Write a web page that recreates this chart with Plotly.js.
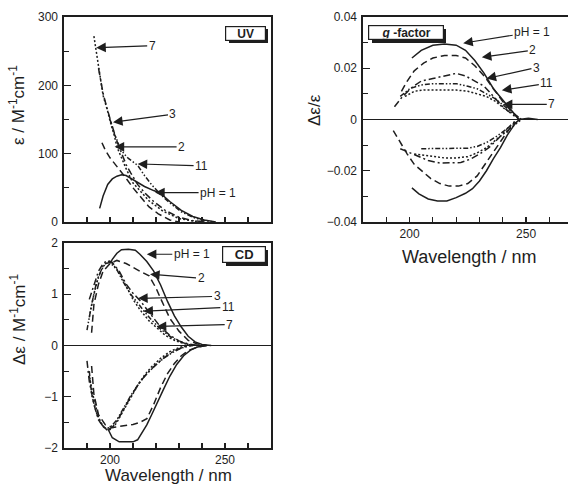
<!DOCTYPE html>
<html><head><meta charset="utf-8">
<script src="https://cdn.plot.ly/plotly-3.0.1.min.js"></script>
<style>html,body{margin:0;padding:0;background:#fff}#chart{width:568px;height:487px}</style>
</head><body><div id="chart"></div>
<script>
// ---------- UV absorption (epsilon / M^-1 cm^-1) ----------
const uvLam_pH1 = [195.5,197,199,201,203,205,207,209,212,215,219,222,226,231,236,241,246];
const uvEps_pH1 = [20,38,55,63,67,69,68,64,58,52,46,42,30,17,8,3,0];
const uvLam_pH2 = [196.5,198,200,202,204,207,210,213,217,221,226,230];
const uvEps_pH2 = [116,105,94,86,77,64,50,38,22,12,3,0];
const uvLam_pH3 = [195,197,199,200,201,203,205,207,209,212,215,219,224,230,236,242];
const uvEps_pH3 = [225,188,163,150,140,118,100,84,72,55,43,30,17,7,2,0];
const uvLam_pH11 = [200,202,204,206,208,210,212,215,218,222,226,231,236,241,245];
const uvEps_pH11 = [150,128,112,100,93,88,83,68,55,40,28,15,7,2,0];
const uvLam_pH7 = [193,194.5,196,197,199,200,202,203,205,207,210,213,217,223,230,236,241];
const uvEps_pH7 = [272,240,212,185,162,148,125,110,94,78,57,46,31,16,5,1.5,0];

// ---------- CD (delta epsilon), positive and negative branches ----------
const cdLam_pH1p = [200,201,203,205,208,211,213,216,219,222,225,228,231,234,237,240,244];
const cdVal_pH1p = [1.6,1.68,1.8,1.87,1.88,1.86,1.78,1.64,1.45,1.18,0.86,0.58,0.36,0.18,0.07,0.02,0];
const cdLam_pH2p = [192,193,195,197,200,203,207,210,213,217,220,222,226,230,234,238,242];
const cdVal_pH2p = [0.25,0.8,1.2,1.45,1.6,1.66,1.6,1.52,1.45,1.36,1.12,0.92,0.53,0.28,0.1,0.03,0];
const cdLam_pH3p = [191,193,195,197,199,201,204,207,210,213,216,219,222,226,230,234,238];
const cdVal_pH3p = [0.9,1.2,1.45,1.6,1.66,1.62,1.45,1.2,1.02,0.88,0.7,0.52,0.36,0.2,0.09,0.03,0];
const cdLam_pH11p = [190,192,194,196,198,200,203,206,209,212,215,218,222,226,230,234,238];
const cdVal_pH11p = [0.3,0.8,1.2,1.45,1.6,1.62,1.48,1.22,1.0,0.82,0.66,0.5,0.32,0.18,0.08,0.02,0];
const cdLam_pH7p = [191,193,195,197,199,201,204,207,210,213,217,220,224,228,232,236];
const cdVal_pH7p = [0.55,1.0,1.35,1.55,1.64,1.6,1.42,1.15,0.9,0.7,0.48,0.36,0.2,0.1,0.04,0];

const cdLam_pH1n = [199,201,204,207,210,212,214,216,218,220,223,226,229,232,235,238,242];
const cdVal_pH1n = [-1.62,-1.8,-1.88,-1.88,-1.88,-1.84,-1.7,-1.55,-1.36,-1.16,-0.88,-0.6,-0.37,-0.2,-0.09,-0.03,0];
const cdLam_pH2n = [192,193,195,198,201,204,207,210,213,216,219,222,225,228,231,234,238,242];
const cdVal_pH2n = [-0.4,-0.95,-1.35,-1.55,-1.6,-1.58,-1.55,-1.54,-1.5,-1.43,-1.15,-0.82,-0.55,-0.35,-0.2,-0.1,-0.03,0];
const cdLam_pH3n = [190,191,193,195,197,199,201,204,207,210,213,216,220,224,228,232,236];
const cdVal_pH3n = [-0.3,-0.7,-1.15,-1.45,-1.58,-1.64,-1.6,-1.4,-1.16,-0.92,-0.71,-0.55,-0.37,-0.22,-0.1,-0.03,0];
const cdLam_pH11n = [191,192,194,196,198,200,203,206,209,212,215,219,223,227,231,235];
const cdVal_pH11n = [-0.5,-0.95,-1.3,-1.52,-1.62,-1.6,-1.45,-1.22,-0.98,-0.78,-0.6,-0.42,-0.26,-0.14,-0.05,0];
const cdLam_pH7n = [191,193,195,197,199,201,203,206,209,212,215,218,222,226,230,234];
const cdVal_pH7n = [-0.6,-1.05,-1.4,-1.58,-1.66,-1.62,-1.5,-1.25,-1.0,-0.78,-0.58,-0.42,-0.25,-0.12,-0.04,0];

// ---------- g-factor (delta epsilon / epsilon) ----------
const gLam_pH1p = [201,205,210,215,220,224,228,232,236,240,244,247,251,255];
const gVal_pH1p = [0.024,0.027,0.029,0.0295,0.029,0.027,0.023,0.018,0.012,0.0075,0.003,0,0.0005,0];
const gLam_pH2p = [196.5,199,202,206,210,215,220,224,228,232,236,240,244,247];
const gVal_pH2p = [0.011,0.015,0.019,0.022,0.024,0.025,0.025,0.024,0.021,0.017,0.012,0.007,0.003,0];
const gLam_pH3p = [193.5,197,201,205,210,215,220,224,228,232,236,240,244,247];
const gVal_pH3p = [0.005,0.009,0.0125,0.015,0.016,0.017,0.018,0.017,0.015,0.013,0.009,0.005,0.002,0];
const gLam_pH11p = [196,200,205,210,215,220,225,229,233,237,241,245,248];
const gVal_pH11p = [0.009,0.012,0.0135,0.014,0.014,0.014,0.013,0.012,0.010,0.008,0.005,0.002,0];
const gLam_pH7p = [198,202,206,210,215,220,225,229,233,237,241,245,248];
const gVal_pH7p = [0.009,0.011,0.0115,0.0115,0.0115,0.0115,0.011,0.010,0.009,0.007,0.004,0.002,0];

const gLam_pH1n = [201,204,208,212,216,220,224,227,230,233,236,239,242,245,247];
const gVal_pH1n = [-0.0267,-0.029,-0.031,-0.0318,-0.0318,-0.0305,-0.0288,-0.027,-0.024,-0.020,-0.0153,-0.011,-0.006,-0.002,0];
const gLam_pH2n = [193,196,199,202,205,209,213,217,221,225,229,233,237,241,245];
const gVal_pH2n = [-0.0043,-0.009,-0.0135,-0.0175,-0.020,-0.023,-0.025,-0.026,-0.026,-0.025,-0.022,-0.0165,-0.011,-0.006,-0.001];
const gLam_pH3n = [196,200,204,208,213,218,222,226,230,234,238,242,246];
const gVal_pH3n = [-0.0114,-0.013,-0.0145,-0.016,-0.017,-0.017,-0.0168,-0.0155,-0.0135,-0.011,-0.0075,-0.0035,0];
const gLam_pH11n = [205,210,215,220,225,229,233,237,241,245,248];
const gVal_pH11n = [-0.0114,-0.0114,-0.0114,-0.0114,-0.0112,-0.0105,-0.009,-0.0068,-0.004,-0.0015,0];
const gLam_pH7n = [202,206,210,215,220,225,229,233,237,241,245,248];
const gVal_pH7n = [-0.0135,-0.014,-0.0145,-0.015,-0.015,-0.0145,-0.013,-0.011,-0.008,-0.005,-0.002,0];

const pHLabels = ['pH = 1','2','3','11','7'];

// ---------- styling ----------
const INK = '#1e1e1e';
const DASH = {
  '1':'solid',
  '2':'7px,4px',
  '3':'7px,3px,2px,3px',
  '11':'5px,2px,1.5px,2px,1.5px,2px',
  '7':'2px,2px'
};
const W = 568, H = 487;
const fx = p => p / W;
const fy = p => 1 - p / H;
const FAM = 'Liberation Sans, Arial, sans-serif';

function tr(x, y, ph, xa, ya) {
  return {x:x, y:y, type:'scatter', mode:'lines', xaxis:xa, yaxis:ya,
    line:{color:INK, width:1.5, dash:DASH[ph]}, hoverinfo:'skip', showlegend:false};
}

const data = [
  tr(uvLam_pH1, uvEps_pH1, '1', 'x', 'y'),
  tr(uvLam_pH2, uvEps_pH2, '2', 'x', 'y'),
  tr(uvLam_pH3, uvEps_pH3, '3', 'x', 'y'),
  tr(uvLam_pH11, uvEps_pH11, '11', 'x', 'y'),
  tr(uvLam_pH7, uvEps_pH7, '7', 'x', 'y'),

  tr(cdLam_pH1p, cdVal_pH1p, '1', 'x2', 'y2'),
  tr(cdLam_pH2p, cdVal_pH2p, '2', 'x2', 'y2'),
  tr(cdLam_pH3p, cdVal_pH3p, '3', 'x2', 'y2'),
  tr(cdLam_pH11p, cdVal_pH11p, '11', 'x2', 'y2'),
  tr(cdLam_pH7p, cdVal_pH7p, '7', 'x2', 'y2'),
  tr(cdLam_pH1n, cdVal_pH1n, '1', 'x2', 'y2'),
  tr(cdLam_pH2n, cdVal_pH2n, '2', 'x2', 'y2'),
  tr(cdLam_pH3n, cdVal_pH3n, '3', 'x2', 'y2'),
  tr(cdLam_pH11n, cdVal_pH11n, '11', 'x2', 'y2'),
  tr(cdLam_pH7n, cdVal_pH7n, '7', 'x2', 'y2'),

  tr(gLam_pH1p, gVal_pH1p, '1', 'x3', 'y3'),
  tr(gLam_pH2p, gVal_pH2p, '2', 'x3', 'y3'),
  tr(gLam_pH3p, gVal_pH3p, '3', 'x3', 'y3'),
  tr(gLam_pH11p, gVal_pH11p, '11', 'x3', 'y3'),
  tr(gLam_pH7p, gVal_pH7p, '7', 'x3', 'y3'),
  tr(gLam_pH1n, gVal_pH1n, '1', 'x3', 'y3'),
  tr(gLam_pH2n, gVal_pH2n, '2', 'x3', 'y3'),
  tr(gLam_pH3n, gVal_pH3n, '3', 'x3', 'y3'),
  tr(gLam_pH11n, gVal_pH11n, '11', 'x3', 'y3'),
  tr(gLam_pH7n, gVal_pH7n, '7', 'x3', 'y3')
];

const TICKFONT = {family:FAM, size:12, color:INK};
const LABFONT = {family:FAM, size:12, color:INK};

function xax(domain, anchor, range, labels) {
  return {domain:domain, anchor:anchor, range:range, showgrid:false, zeroline:false,
    showline:true, linecolor:INK, linewidth:1.6, mirror:true,
    ticks:'inside', ticklen:5, tickwidth:1.2, tickcolor:INK,
    tick0:0, dtick:50, showticklabels:labels, tickfont:TICKFONT, ticklabelstandoff:0,
    minor:{dtick:10, tick0:0, ticks:'inside', ticklen:5, tickwidth:1.2, tickcolor:INK}};
}
function yax(domain, anchor, range, dtick, minor, zl) {
  return {domain:domain, anchor:anchor, range:range, showgrid:false,
    zeroline:zl, zerolinecolor:INK, zerolinewidth:1.6,
    showline:true, linecolor:INK, linewidth:1.6, mirror:true,
    ticks:'inside', ticklen:7, tickwidth:1.2, tickcolor:INK,
    tick0:0, dtick:dtick, tickfont:TICKFONT, ticklabelstandoff:2,
    minor:{dtick:minor, tick0:0, ticks:'inside', ticklen:5, tickwidth:1.2, tickcolor:INK}};
}

const xL = [fx(64), fx(271)];
const xR = [fx(363), 1];
const yTop = [fy(222), fy(17)];
const yBot = [fy(448), fy(243)];

// arrow annotations: tip at data coords, text offset in pixels
function arrow(xref, yref, x, y, ax, ay, text) {
  return {xref:xref, yref:yref, x:x, y:y, ax:ax, ay:ay, text:text,
    showarrow:true, arrowhead:2, arrowsize:1.6, arrowwidth:1.2, arrowcolor:INK,
    font:LABFONT, standoff:0};
}
function paperText(x, y, text, size, extra) {
  return Object.assign({xref:'paper', yref:'paper', x:fx(x), y:fy(y), text:text,
    xanchor:'center', yanchor:'middle', showarrow:false,
    font:{family:FAM, size:size, color:INK}}, extra || {});
}
function tag(cx, cy, w, h, text, size) {
  return paperText(cx, cy, text, size, {width:w, height:h, bgcolor:'#fff',
    bordercolor:INK, borderwidth:1.2, borderpad:1, align:'center', valign:'middle'});
}

const annotations = [
  // UV
  arrow('x','y',194,255,56,-2,pHLabels[4]),
  arrow('x','y',201.3,146,60,-8,pHLabels[2]),
  arrow('x','y',202,110,67,0,pHLabels[1]),
  arrow('x','y',212,85,64,2,pHLabels[3]),
  arrow('x','y',219.6,43,63,0,pHLabels[0]),
  // CD
  arrow('x2','y2',216,1.78,45,0,pHLabels[0]),
  arrow('x2','y2',217.4,1.39,51,4,pHLabels[1]),
  arrow('x2','y2',212.2,0.92,79,-2,pHLabels[2]),
  arrow('x2','y2',214.5,0.67,85,-4,pHLabels[3]),
  arrow('x2','y2',220.3,0.37,73,-2,pHLabels[4]),
  // g-factor
  arrow('x3','y3',223,0.0298,69,-11,pHLabels[0]),
  arrow('x3','y3',231,0.0243,51,-7,pHLabels[1]),
  arrow('x3','y3',233,0.016,50,-11,pHLabels[2]),
  arrow('x3','y3',239.6,0.0114,45,-7,pHLabels[3]),
  arrow('x3','y3',240,0.0059,49,0,pHLabels[4]),
  // panel tags
  tag(245, 33, 37, 11, '<b>UV</b>', 12),
  tag(243.5, 254.5, 40, 13, '<b>CD</b>', 13),
  tag(405.5, 32.5, 72, 11, '<b><i>g</i> -factor</b>', 12),
  // axis titles
  paperText(17, 105, 'ε / M<sup>-1</sup>cm<sup>-1</sup>', 17, {textangle:-90}),
  paperText(18, 320, 'Δε / M<sup>-1</sup>cm<sup>-1</sup>', 17, {textangle:-90}),
  paperText(314, 110, 'Δε/ε', 17, {textangle:-90}),
  paperText(168, 475, 'Wavelength / nm', 17),
  paperText(469, 257, 'Wavelength / nm', 18)
];

function shadow(x0, y0, x1, y1) {
  return {type:'rect', xref:'paper', yref:'paper', x0:fx(x0), x1:fx(x1), y0:fy(y1), y1:fy(y0),
    fillcolor:INK, line:{width:0}, layer:'below'};
}

const shapes = [
  shadow(229, 29, 268, 43),
  shadow(226, 250, 268, 266),
  shadow(372, 29, 446, 43)
];

const layout = {
  width:W, height:H, margin:{l:0, r:0, t:0, b:0},
  paper_bgcolor:'#fff', plot_bgcolor:'rgba(0,0,0,0)', showlegend:false,
  font:{family:FAM, size:12, color:INK},
  xaxis: xax(xL, 'y', [180,270], false),
  yaxis: yax(yTop, 'x', [0,300], 100, 50, false),
  xaxis2: xax(xL, 'y2', [180,270], true),
  yaxis2: yax(yBot, 'x2', [-2,2], 1, 0.5, true),
  xaxis3: xax(xR, 'y3', [180,268], true),
  yaxis3: Object.assign(yax(yTop, 'x3', [-0.04,0.04], 0.02, 0.01, true), {mirror:false}),
  annotations:annotations,
  shapes:shapes
};

Plotly.newPlot('chart', data, layout, {staticPlot:true, displayModeBar:false});
</script>
</body></html>
